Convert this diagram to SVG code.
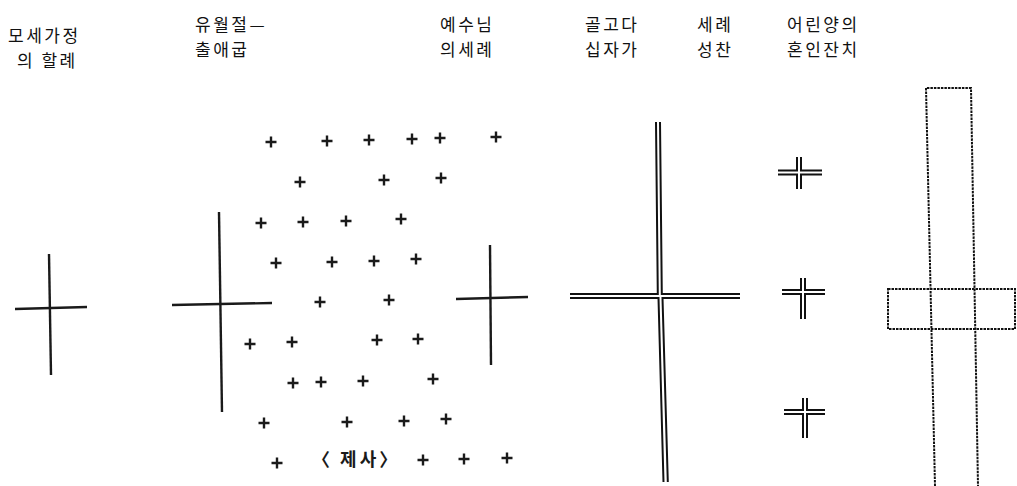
<svg xmlns="http://www.w3.org/2000/svg" xmlns:xlink="http://www.w3.org/1999/xlink" width="1017" height="486" viewBox="0 0 1017 486">
<style>
.t{font-family:"Noto Sans CJK KR","Noto Sans",sans-serif;font-size:17px;letter-spacing:2.5px;fill:#111}
.ln{stroke:#1a1a1a;stroke-width:2.4;fill:none;stroke-linecap:butt}
.dl{stroke:#111;stroke-width:2;fill:none}
.dot{stroke:#111;stroke-width:2;fill:none;stroke-dasharray:2.5 1}
.p{stroke:#1a1a1a;stroke-width:2.4;fill:none}
.b{font-family:"Noto Sans CJK KR","Noto Sans",sans-serif;font-size:18px;font-weight:bold;letter-spacing:3px;fill:#1a1a1a}
</style>
<defs>
<path id="plus" class="p" d="M-5.5,0H5.5M0,-5.5V5.5"/>
</defs>
<rect width="1017" height="486" fill="#fff"/>

<g id="moses">
<text class="t" x="8" y="42">모세가정</text>
<text class="t" x="17" y="67">의 할례</text>
<line class="ln" x1="49" y1="254" x2="51" y2="375"/>
<line class="ln" x1="15" y1="309" x2="87" y2="307"/>
</g>

<g id="passover">
<text class="t" x="195" y="31">유월절—</text>
<text class="t" x="195" y="56">출애굽</text>
<line class="ln" x1="219" y1="212" x2="222" y2="412"/>
<line class="ln" x1="172" y1="305" x2="272" y2="303"/>
<g>
<use xlink:href="#plus" x="271" y="142"/><use xlink:href="#plus" x="327" y="141"/><use xlink:href="#plus" x="369" y="140"/><use xlink:href="#plus" x="412" y="139"/><use xlink:href="#plus" x="440" y="138"/><use xlink:href="#plus" x="496" y="137"/>
<use xlink:href="#plus" x="300" y="182"/><use xlink:href="#plus" x="384" y="180"/><use xlink:href="#plus" x="441" y="178"/>
<use xlink:href="#plus" x="261" y="223"/><use xlink:href="#plus" x="303" y="222"/><use xlink:href="#plus" x="346" y="221"/><use xlink:href="#plus" x="401" y="219"/>
<use xlink:href="#plus" x="276" y="263"/><use xlink:href="#plus" x="332" y="262"/><use xlink:href="#plus" x="374" y="261"/><use xlink:href="#plus" x="416" y="259"/>
<use xlink:href="#plus" x="320" y="302"/><use xlink:href="#plus" x="389" y="300"/>
<use xlink:href="#plus" x="250" y="344"/><use xlink:href="#plus" x="292" y="342"/><use xlink:href="#plus" x="377" y="340"/><use xlink:href="#plus" x="418" y="339"/>
<use xlink:href="#plus" x="293" y="383"/><use xlink:href="#plus" x="321" y="382"/><use xlink:href="#plus" x="363" y="381"/><use xlink:href="#plus" x="433" y="379"/>
<use xlink:href="#plus" x="264" y="423"/><use xlink:href="#plus" x="347" y="422"/><use xlink:href="#plus" x="404" y="421"/><use xlink:href="#plus" x="446" y="419"/>
<use xlink:href="#plus" x="277" y="463"/><use xlink:href="#plus" x="423" y="460"/><use xlink:href="#plus" x="464" y="459"/><use xlink:href="#plus" x="507" y="458"/>
</g>
<text class="b" x="312" y="466">〈 제사〉</text>
</g>

<g id="baptism-jesus">
<text class="t" x="440" y="31">예수님</text>
<text class="t" x="440" y="56">의세례</text>
<line class="ln" x1="490" y1="245" x2="491" y2="365"/>
<line class="ln" x1="456" y1="299" x2="528" y2="297"/>
</g>

<g id="golgotha">
<text class="t" x="585" y="31">골고다</text>
<text class="t" x="585" y="56">십자가</text>
<path class="dl" d="M656,122L657.8,294H570"/>
<path class="dl" d="M660,122L661.8,294H740"/>
<path class="dl" d="M570,298H658.5L663.5,482"/>
<path class="dl" d="M740,298H662.5L667.8,482"/>
</g>

<g id="sacraments">
<text class="t" x="697" y="31">세례</text>
<text class="t" x="697" y="56">성찬</text>
<path class="dl" d="M797,157V170.5H778M801,157V170.5H822M778,174.5H797V189M822,174.5H801V189"/>
<path class="dl" d="M801,278V290H782M805,278V290H825M782,294H801V319M825,294H805V319"/>
<path class="dl" d="M803,398V410H784M807,398V410H825M784,414H803V438M825,414H807V438"/>
</g>

<g id="lamb">
<text class="t" x="787" y="31">어린양의</text>
<text class="t" x="787" y="56">혼인잔치</text>
<path class="dot" d="M935,486L926,88H971L978,486"/>
<rect class="dot" x="888" y="289" width="127" height="40"/>
</g>
</svg>
